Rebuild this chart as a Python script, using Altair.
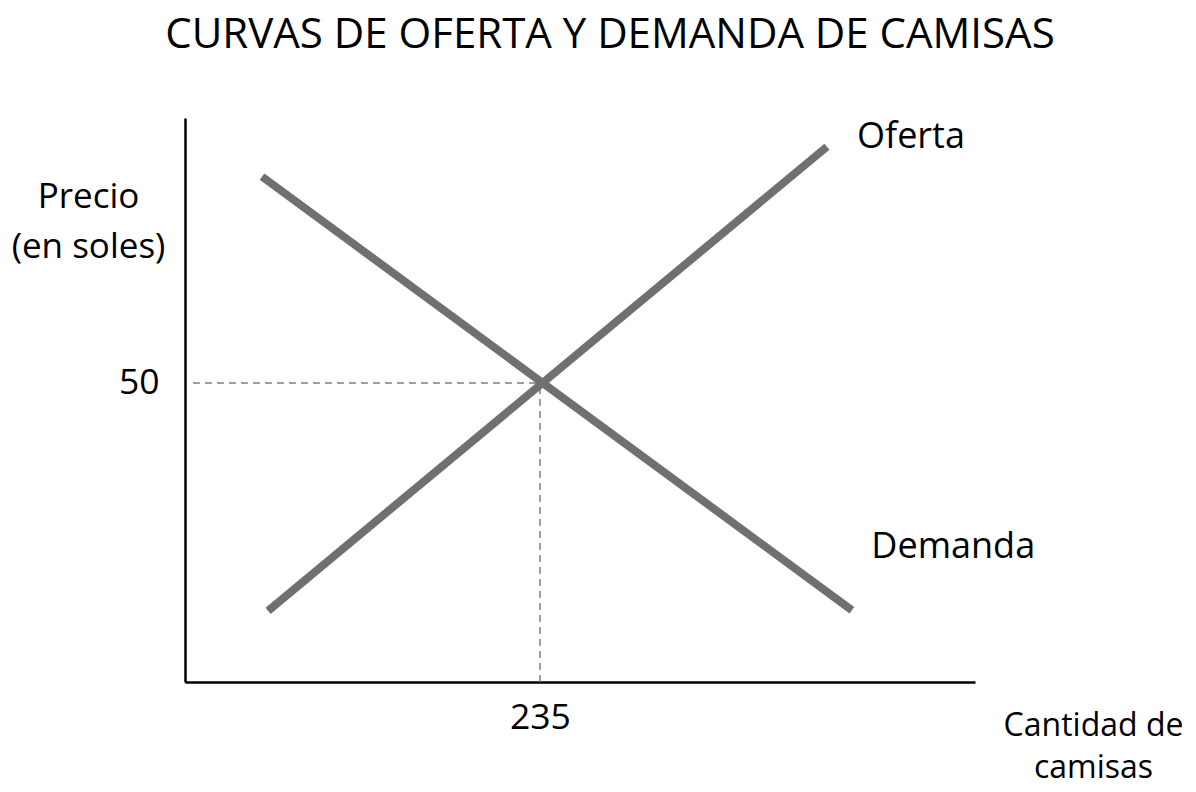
import altair as alt
import pandas as pd

# Curve endpoints (quantity, price)
oferta_x = [55, 425]
oferta_y = [11.9, 89.5]
demanda_x = [51, 441.5]
demanda_y = [84.5, 12]

eq_q = [235]
eq_p = [50]

label_names = ["Oferta", "Demanda"]
label_x = [480.6, 508.6]
label_y = [89.3, 20.7]

X_DOMAIN = [0, 523]
Y_DOMAIN = [0, 94.3]

curves = pd.DataFrame({
    "q": oferta_x + demanda_x,
    "p": oferta_y + demanda_y,
    "curva": ["Oferta"] * 2 + ["Demanda"] * 2,
})
labels = pd.DataFrame({"name": label_names, "q": label_x, "p": label_y})
hline = pd.DataFrame({"q0": [5.3], "q1": eq_q, "p": eq_p})
vline = pd.DataFrame({"q": eq_q, "p0": [0], "p1": eq_p})

FONT = "Open Sans"

xscale = alt.Scale(domain=X_DOMAIN, nice=False, zero=False)
yscale = alt.Scale(domain=Y_DOMAIN, nice=False, zero=False)

xaxis = alt.Axis(
    values=eq_q, ticks=False, grid=False, labelFontSize=35.5, labelFont=FONT,
    labelColor="black", labelPadding=18, domainColor="black", domainWidth=2.5,
    title=["Cantidad de", "camisas"], titleFont=FONT, titleFontSize=32,
    titleFontWeight="normal", titleColor="black", titleAngle=0,
    titleAlign="center", titleBaseline="alphabetic", titleX=908, titleY=53,
    titleLineHeight=42,
)
yaxis = alt.Axis(
    values=eq_p, ticks=False, grid=False, labelFontSize=35.5, labelFont=FONT,
    labelColor="black", labelPadding=26, domainColor="black", domainWidth=2.5,
    title=["Precio", "(en soles)"], titleFont=FONT, titleFontSize=35,
    titleFontWeight="normal", titleColor="black", titleAngle=0,
    titleAlign="center", titleBaseline="alphabetic", titleX=-97, titleY=89,
    titleLineHeight=50,
)

lines = alt.Chart(curves).mark_line(strokeWidth=8, color="#707070", strokeCap="butt").encode(
    x=alt.X("q:Q", scale=xscale, axis=xaxis),
    y=alt.Y("p:Q", scale=yscale, axis=yaxis),
    detail="curva:N",
)

h = alt.Chart(hline).mark_rule(color="#7f7f7f", strokeWidth=1.5, strokeDash=[7, 5]).encode(
    x=alt.X("q0:Q", scale=xscale), x2="q1:Q", y=alt.Y("p:Q", scale=yscale)
)
v = alt.Chart(vline).mark_rule(color="#7f7f7f", strokeWidth=1.5, strokeDash=[7, 5]).encode(
    x=alt.X("q:Q", scale=xscale), y=alt.Y("p0:Q", scale=yscale), y2="p1:Q"
)

txt = alt.Chart(labels).mark_text(
    font=FONT, fontSize=36, color="black", align="center", baseline="alphabetic"
).encode(
    x=alt.X("q:Q", scale=xscale), y=alt.Y("p:Q", scale=yscale), text="name:N"
)

chart = alt.layer(h, v, lines, txt).properties(
    width=790,
    height=564,
    title=alt.TitleParams(
        text="CURVAS DE OFERTA Y DEMANDA DE CAMISAS", font=FONT, fontSize=42,
        fontWeight="normal", color="black", anchor="middle", dx=30, offset=61,
    ),
    autosize=alt.AutoSizeParams(type="none"),
    padding={"left": 177, "top": 110, "right": 212, "bottom": 102},
).configure_view(stroke=None)

chart.save("out.html", embed_options={"renderer": "svg", "actions": False})
